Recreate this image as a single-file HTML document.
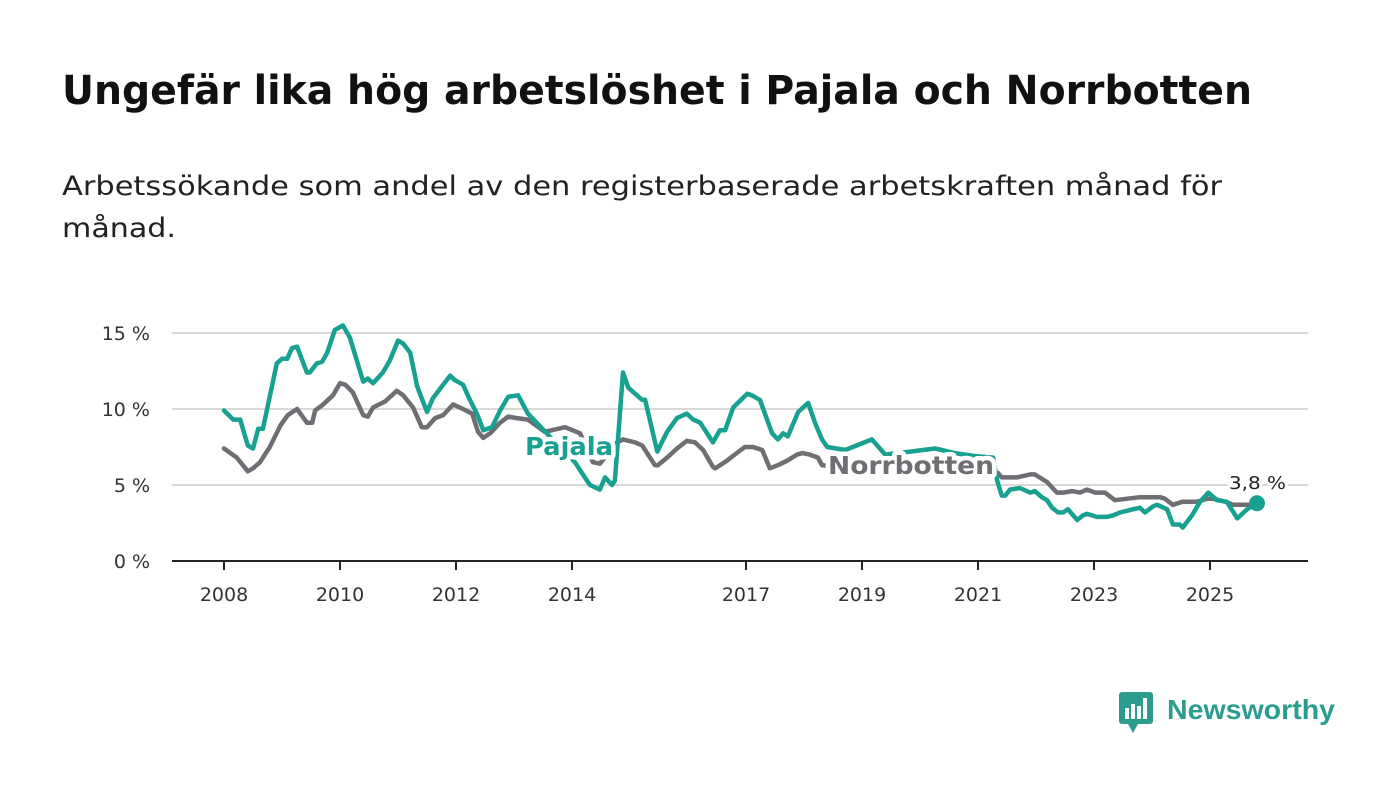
<!DOCTYPE html>
<html><head><meta charset="utf-8"><style>
html,body{margin:0;padding:0;background:#fff;}
svg{display:block;font-family:"DejaVu Sans","Liberation Sans",sans-serif;}
</style></head><body>
<svg id="chart" width="1400" height="794" viewBox="0 0 1400 794">
<text x="62" y="104" font-size="40" font-weight="bold" fill="#111" textLength="1190" lengthAdjust="spacingAndGlyphs">Ungefär lika hög arbetslöshet i Pajala och Norrbotten</text>
<text x="62" y="195" font-size="27" fill="#222" textLength="1160" lengthAdjust="spacingAndGlyphs">Arbetssökande som andel av den registerbaserade arbetskraften månad för</text>
<text x="62" y="237" font-size="27" fill="#222" textLength="114" lengthAdjust="spacingAndGlyphs">månad.</text>
<g id="grid"></g>
<g id="series"></g>
<g id="labels"></g>
<g>
<rect x="1119" y="692" width="34" height="32" rx="3" fill="#2a9d8f"/>
<polygon points="1128,724 1138,724 1133,733" fill="#2a9d8f"/>
<rect x="1125" y="708" width="4" height="11" fill="#fff"/>
<rect x="1131" y="704" width="4" height="15" fill="#fff"/>
<rect x="1137" y="706" width="4" height="13" fill="#fff"/>
<rect x="1143" y="698" width="4" height="21" fill="#fff"/>
<text x="1167" y="719" font-size="28" font-weight="bold" fill="#2a9d8f" textLength="168" lengthAdjust="spacingAndGlyphs" font-family="Liberation Sans, sans-serif">Newsworthy</text>
</g>
</svg>
<script>
const yTicks=[0,5,10,15];
const yTickLabels=["0 %","5 %","10 %","15 %"];
const xTicks=[2008,2010,2012,2014,2017,2019,2021,2023,2025];
const pajalaDates=[2008.00,2008.16,2008.28,2008.41,2008.50,2008.59,2008.67,2008.91,2009.00,2009.09,2009.17,2009.26,2009.43,2009.48,2009.60,2009.69,2009.78,2009.91,2010.05,2010.17,2010.40,2010.48,2010.57,2010.74,2010.86,2011.00,2011.09,2011.21,2011.33,2011.50,2011.60,2011.78,2011.90,2011.98,2012.12,2012.24,2012.36,2012.47,2012.62,2012.76,2012.90,2013.07,2013.24,2013.79,2014.05,2014.22,2014.31,2014.48,2014.57,2014.69,2014.74,2014.88,2014.97,2015.09,2015.21,2015.26,2015.47,2015.64,2015.81,2015.98,2016.09,2016.21,2016.43,2016.55,2016.64,2016.78,2016.86,2017.02,2017.10,2017.24,2017.45,2017.55,2017.64,2017.72,2017.90,2018.07,2018.19,2018.31,2018.40,2018.71,2018.97,2019.17,2019.40,2019.83,2020.26,2020.60,2020.95,2021.26,2021.33,2021.41,2021.47,2021.55,2021.72,2021.90,2021.98,2022.10,2022.19,2022.28,2022.38,2022.47,2022.55,2022.71,2022.81,2022.88,2023.05,2023.22,2023.33,2023.45,2023.57,2023.67,2023.79,2023.88,2024.02,2024.09,2024.26,2024.36,2024.48,2024.53,2024.69,2024.83,2024.97,2025.12,2025.29,2025.47,2025.64,2025.81];
const pajalaValues=[9.9,9.3,9.3,7.6,7.4,8.7,8.7,13.0,13.3,13.3,14.0,14.1,12.4,12.4,13.0,13.1,13.7,15.2,15.5,14.7,11.8,12.0,11.7,12.4,13.2,14.5,14.3,13.7,11.5,9.8,10.7,11.6,12.2,11.9,11.6,10.6,9.7,8.6,8.8,9.9,10.8,10.9,9.7,7.5,6.5,5.5,5.0,4.7,5.5,5.0,5.3,12.4,11.4,11.0,10.6,10.6,7.2,8.5,9.4,9.7,9.3,9.1,7.8,8.6,8.6,10.1,10.4,11.0,10.9,10.6,8.4,8.0,8.4,8.2,9.8,10.4,9.1,8.0,7.5,7.3,7.7,8.0,7.0,7.2,7.4,7.1,6.9,6.8,5.3,4.3,4.3,4.7,4.8,4.5,4.6,4.2,4.0,3.5,3.2,3.2,3.4,2.7,3.0,3.1,2.9,2.9,3.0,3.2,3.3,3.4,3.5,3.2,3.6,3.7,3.4,2.4,2.4,2.2,3.0,3.9,4.5,4.0,3.9,2.8,3.4,3.8];
const norrDates=[2008.00,2008.22,2008.41,2008.50,2008.62,2008.79,2008.97,2009.10,2009.26,2009.43,2009.52,2009.57,2009.71,2009.88,2010.00,2010.09,2010.22,2010.40,2010.48,2010.57,2010.78,2010.98,2011.09,2011.26,2011.41,2011.50,2011.64,2011.78,2011.95,2012.12,2012.28,2012.38,2012.47,2012.59,2012.76,2012.90,2013.05,2013.24,2013.53,2013.88,2014.14,2014.36,2014.48,2014.78,2014.88,2015.09,2015.21,2015.43,2015.48,2015.64,2015.81,2015.98,2016.12,2016.26,2016.43,2016.47,2016.67,2016.84,2016.98,2017.12,2017.28,2017.41,2017.55,2017.71,2017.88,2017.97,2018.10,2018.24,2018.31,2018.62,2019.31,2020.00,2020.69,2021.21,2021.34,2021.41,2021.67,2021.90,2021.98,2022.19,2022.36,2022.47,2022.62,2022.76,2022.88,2023.02,2023.19,2023.36,2023.57,2023.79,2024.14,2024.22,2024.36,2024.53,2024.78,2024.95,2025.05,2025.26,2025.40,2025.64,2025.81];
const norrValues=[7.4,6.8,5.9,6.1,6.5,7.5,8.9,9.6,10.0,9.1,9.1,9.9,10.3,10.9,11.7,11.6,11.1,9.6,9.5,10.1,10.5,11.2,10.9,10.1,8.8,8.8,9.4,9.6,10.3,10.0,9.7,8.5,8.1,8.4,9.1,9.5,9.4,9.3,8.5,8.8,8.4,6.5,6.4,7.8,8.0,7.8,7.6,6.3,6.3,6.8,7.4,7.9,7.8,7.3,6.2,6.1,6.6,7.1,7.5,7.5,7.3,6.1,6.3,6.6,7.0,7.1,7.0,6.8,6.3,6.2,6.5,6.4,6.0,5.7,5.8,5.5,5.5,5.7,5.7,5.2,4.5,4.5,4.6,4.5,4.7,4.5,4.5,4.0,4.1,4.2,4.2,4.1,3.7,3.9,3.9,4.1,4.1,3.9,3.7,3.7,3.7];
const lastLabel="3,8 %";

const NS="http://www.w3.org/2000/svg";
const X0=172,X1=1308;
function xs(y){return 224+(y-2008)*58;}
function ys(v){return 561-v*15.2;}
function mk(tag,attrs,parent,txt){const e=document.createElementNS(NS,tag);for(const k in attrs)e.setAttribute(k,attrs[k]);if(txt!==undefined)e.textContent=txt;parent.appendChild(e);return e;}
const grid=document.getElementById('grid');
yTicks.forEach((t,i)=>{
  if(t>0){const g=mk('line',{x1:X0,x2:X1,y1:ys(t),y2:ys(t),stroke:'#d9d9d9','stroke-width':2},grid);
  
  }
  const l=mk('text',{x:150,y:ys(t)+7,'font-size':19,fill:'#333','text-anchor':'end'},grid,yTickLabels[i]);
  
  
});
const ax=mk('line',{x1:X0,x2:X1,y1:561,y2:561,stroke:'#222','stroke-width':2},grid);


xTicks.forEach(t=>{
  const tk=mk('line',{x1:xs(t),x2:xs(t),y1:561,y2:570,stroke:'#222','stroke-width':2},grid);
  
  
  const l=mk('text',{x:xs(t),y:601,'font-size':19,fill:'#333','text-anchor':'middle'},grid,String(t));
  
  
});
const ser=document.getElementById('series');
function line(d,v,color,name){
  const p=d.map((x,i)=>(i?'L':'M')+xs(x).toFixed(1)+','+ys(v[i]).toFixed(1)).join('');
  const e=mk('path',{d:p,fill:'none',stroke:color,'stroke-width':4.5,'stroke-linejoin':'round','stroke-linecap':'round'},ser);
  
  
}
line(norrDates,norrValues,'#6e6e73','norrbotten-line');
line(pajalaDates,pajalaValues,'#18a090','pajala-line');
const lab=document.getElementById('labels');
const n=pajalaDates.length-1;
const dot=mk('circle',{cx:xs(pajalaDates[n]),cy:ys(pajalaValues[n]),r:8,fill:'#18a090'},lab);


const vl=mk('text',{x:xs(pajalaDates[n])-28,y:ys(pajalaValues[n])-14,'font-size':18,fill:'#222',stroke:'#fff','stroke-width':5,'paint-order':'stroke',textLength:57,lengthAdjust:'spacingAndGlyphs'},lab,lastLabel);


const pl=mk('text',{x:525,y:455,'font-size':25,'font-weight':'bold',fill:'#18a090',stroke:'#fff','stroke-width':9,'stroke-linejoin':'round','paint-order':'stroke',textLength:88,lengthAdjust:'spacingAndGlyphs'},lab,'Pajala');


const nl=mk('text',{x:828,y:474,'font-size':25,'font-weight':'bold',fill:'#6e6e73',stroke:'#fff','stroke-width':9,'stroke-linejoin':'round','paint-order':'stroke',textLength:166,lengthAdjust:'spacingAndGlyphs'},lab,'Norrbotten');


</script>
</body></html>
